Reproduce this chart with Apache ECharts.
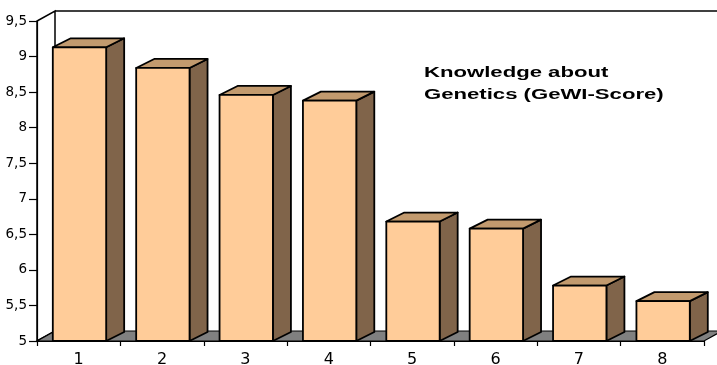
<!DOCTYPE html>
<html>
<head>
<meta charset="utf-8">
<script src="https://cdn.jsdelivr.net/npm/echarts@6/dist/echarts.min.js"></script>
<style>
html,body{margin:0;padding:0;background:#fff;}
#chart{width:717px;height:365px;}
</style>
</head>
<body>
<div id="chart"></div>
<script>
const categories = ['1', '2', '3', '4', '5', '6', '7', '8'];
const scores = [9.13, 8.84, 8.46, 8.38, 6.68, 6.58, 5.78, 5.56];
const yMin = 5;
const yMax = 9.5;
const yInterval = 0.5;
const titleLines = ['Knowledge about', 'Genetics (GeWI-Score)'];

const BAR_DX = 18, BAR_DY = -9;
const WALL_DX = 18, WALL_DY = -10;
const FRONT = '#FFCC99', TOP = '#C29A6E', SIDE = '#80644A', FLOOR = '#808080';
const FONT = '"Liberation Sans", Arial, sans-serif';
const LABEL_FONT = '"DejaVu Sans", sans-serif';

function renderFrame(params, api) {
  const n = categories.length;
  const band = api.size([1, 0])[0];
  const b0 = api.coord([0, yMin]);
  const t0 = api.coord([0, yMax]);
  const bn = api.coord([n - 1, yMin]);
  const L = b0[0] - band / 2, R = bn[0] + band / 2, B = b0[1], T = t0[1];
  return {
    type: 'group',
    children: [
      {type: 'polygon', shape: {points: [[L, B], [L, T], [L + WALL_DX, T + WALL_DY], [L + WALL_DX, B + WALL_DY]]},
        style: {fill: '#fff', stroke: '#000', lineWidth: 1.5}},
      {type: 'polygon', shape: {points: [[L, B], [R, B], [R + WALL_DX, B + WALL_DY], [L + WALL_DX, B + WALL_DY]]},
        style: {fill: FLOOR, stroke: '#000', lineWidth: 1.2}},
      {type: 'line', shape: {x1: L + WALL_DX, y1: T + WALL_DY, x2: R + WALL_DX, y2: T + WALL_DY},
        style: {stroke: '#000', lineWidth: 1.5, fill: null}}
    ]
  };
}

function renderBar(params, api) {
  const i = api.value(0), v = api.value(1);
  const top = api.coord([i, v]);
  const base = api.coord([i, yMin]);
  const band = api.size([1, 0])[0];
  const w = band * 0.64;
  const x0 = top[0] - w / 2 + 0.8, x1 = top[0] + w / 2 + 0.8;
  const y0 = top[1], y1 = base[1];
  const st = {stroke: '#000', lineWidth: 1.8, lineJoin: 'round'};
  return {
    type: 'group',
    children: [
      {type: 'polygon', shape: {points: [[x1, y0], [x1 + BAR_DX, y0 + BAR_DY], [x1 + BAR_DX, y1 + BAR_DY], [x1, y1]]},
        style: Object.assign({fill: SIDE}, st)},
      {type: 'polygon', shape: {points: [[x0, y0], [x1, y0], [x1 + BAR_DX, y0 + BAR_DY], [x0 + BAR_DX, y0 + BAR_DY]]},
        style: Object.assign({fill: TOP}, st)},
      {type: 'rect', shape: {x: x0, y: y0, width: x1 - x0, height: y1 - y0},
        style: Object.assign({fill: FRONT}, st)}
    ]
  };
}

const chart = echarts.init(document.getElementById('chart'), null, {renderer: 'canvas'});
chart.setOption({
  animation: false,
  backgroundColor: '#fff',
  grid: {left: 37, right: 13, top: 21, bottom: 24, containLabel: false, outerBoundsMode: 'none'},
  xAxis: {
    type: 'category',
    data: categories,
    boundaryGap: true,
    axisLine: {show: true, lineStyle: {color: '#000', width: 1.2}},
    axisTick: {show: true, interval: 0, length: 5, lineStyle: {color: '#000', width: 1.2}},
    axisLabel: {color: '#000', fontSize: 16, fontFamily: LABEL_FONT, margin: 11},
    splitLine: {show: false},
    z: 5
  },
  yAxis: {
    type: 'value',
    min: yMin,
    max: yMax,
    interval: yInterval,
    axisLine: {show: true, lineStyle: {color: '#000', width: 1.2}},
    axisTick: {show: true, length: 8, lineStyle: {color: '#000', width: 1.2}},
    axisLabel: {color: '#000', fontSize: 13.5, fontFamily: LABEL_FONT, margin: 10,
      formatter: v => String(v).replace('.', ',')},
    splitLine: {show: false},
    z: 5
  },
  graphic: titleLines.map((t, k) => ({
    type: 'text',
    x: 424,
    y: 66 + k * 22.5,
    scaleX: 1.58,
    style: {text: t, font: 'bold 14px ' + FONT, fill: '#000', verticalAlign: 'top', align: 'left'}
  })),
  series: [
    {type: 'custom', name: 'frame', renderItem: renderFrame, data: [[0, yMin]], clip: false, z: 1, silent: true},
    {type: 'custom', name: 'GeWI-Score', renderItem: renderBar, data: scores.map((v, i) => [i, v]), clip: false, z: 3}
  ]
});
</script>
</body>
</html>
